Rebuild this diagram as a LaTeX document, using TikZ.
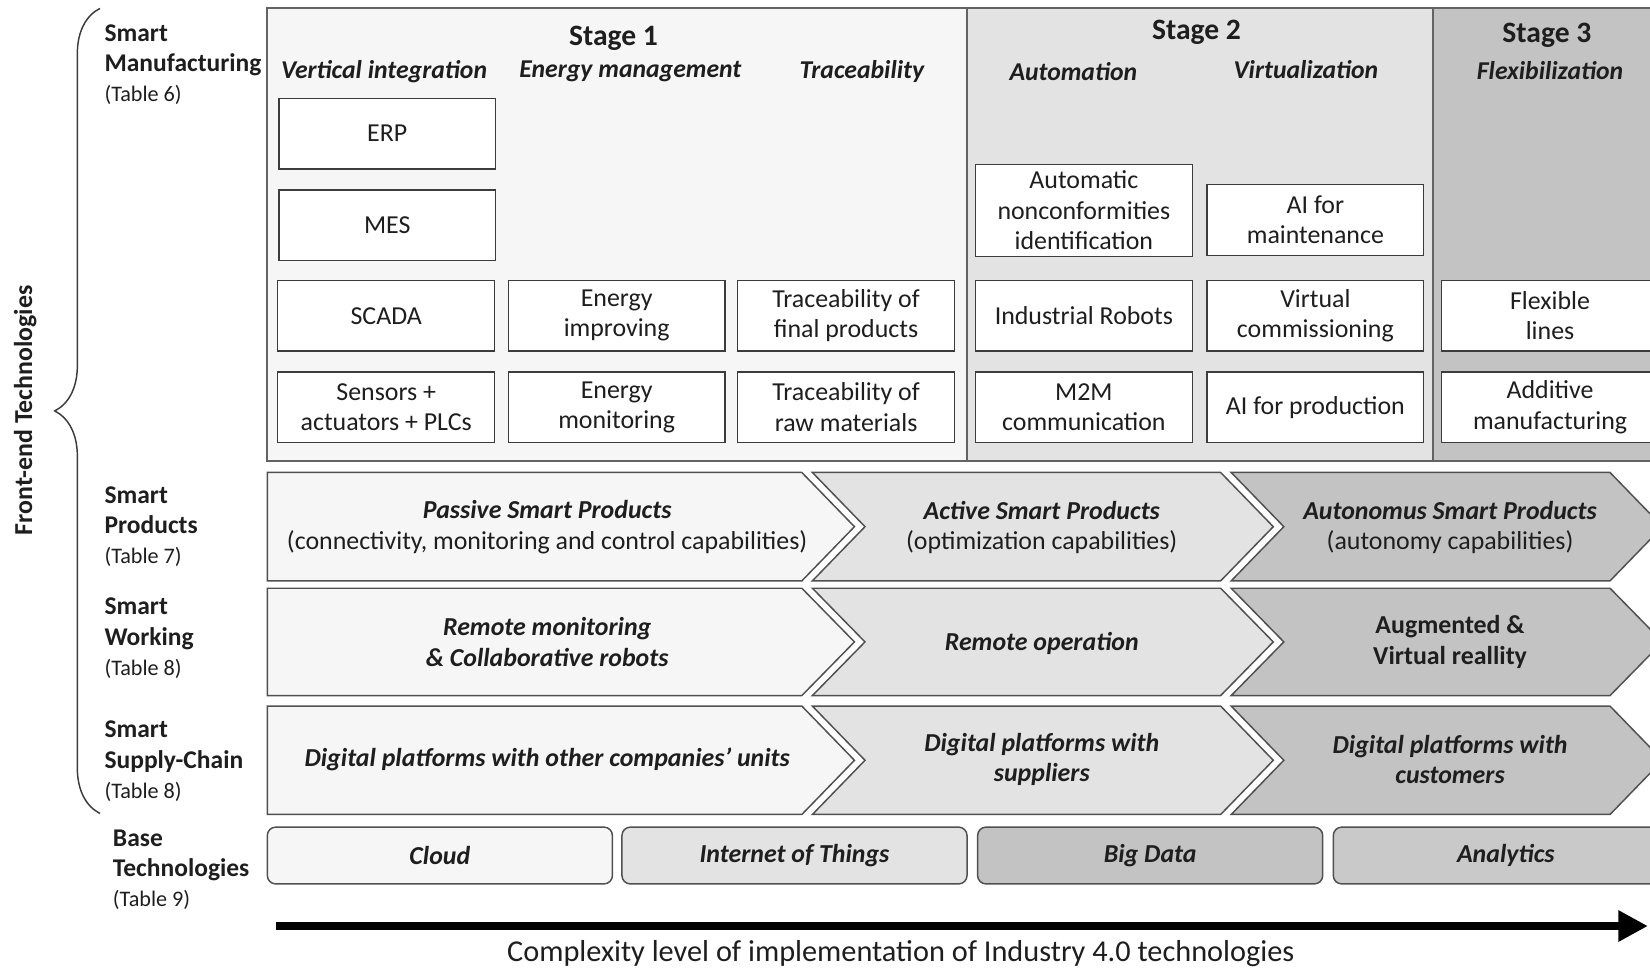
\documentclass[tikz,border=0pt]{standalone}
\usepackage{fontspec}
\setmainfont{Carlito}
\usetikzlibrary{arrows.meta,decorations.pathreplacing}
\definecolor{stageone}{HTML}{F6F6F6}
\definecolor{stagetwo}{HTML}{E3E3E3}
\definecolor{stagethree}{HTML}{C3C3C3}
\definecolor{boxline}{HTML}{3C3C3C}
\definecolor{inkcol}{HTML}{1E1E1E}
\newcommand{\tabref}[1]{{\mdseries\fontsize{12}{13}\selectfont (Table #1)}}
\tikzset{
  techbox/.style={draw=boxline, fill=white, line width=0.7pt, align=center,
    minimum width=4.12cm, minimum height=1.34cm, inner sep=1pt, text=inkcol,
    font=\fontsize{14}{16.4}\selectfont},
  panel/.style={draw=boxline!80, line width=1pt},
  chevline/.style={draw=boxline!90, line width=0.8pt},
  stagehead/.style={font=\bfseries\fontsize{16}{18}\selectfont, text=inkcol},
  subhead/.style={font=\bfseries\itshape\fontsize{13.9}{16}\selectfont, text=inkcol},
  chevtext/.style={align=center, text=inkcol, font=\bfseries\itshape\fontsize{14}{16.4}\selectfont},
  rowlabel/.style={align=left, anchor=north west, inner sep=0pt, text=inkcol,
    font=\bfseries\fontsize{13.8}{16.4}\selectfont},
  basebox/.style={draw=boxline!90, line width=0.8pt, rounded corners=0.16cm,
    minimum width=6.56cm, minimum height=1.08cm, text=inkcol,
    font=\bfseries\itshape\fontsize{14}{16}\selectfont}
}
\begin{document}
\begin{tikzpicture}[x=0.02cm,y=-0.02cm]
  \useasboundingbox (0,0) rectangle (1568,919);
  \clip (0,0) rectangle (1568,919);
  % stage panels
  \fill[stageone] (254,8) rectangle (919,438);
  \fill[stagetwo] (919,8) rectangle (1362,438);
  \fill[stagethree] (1362,8) rectangle (1590,438);
  \draw[panel] (254,8) rectangle (1590,438);
  \draw[panel] (919,8) -- (919,438);
  \draw[panel] (1362,8) -- (1362,438);
  \node[stagehead] (st1) at (583,36) {Stage 1};
  \node[stagehead] (st2) at (1137,31) {Stage 2};
  \node[stagehead] (st3) at (1470,34) {Stage 3};
  \node[subhead] (vint) at (365,68) {Vertical integration};
  \node[subhead] (enman) at (599,68) {Energy management};
  \node[subhead] (trace) at (819,68) {Traceability};
  \node[subhead] (autom) at (1020,68) {Automation};
  \node[subhead] (virt) at (1241,66) {Virtualization};
  \node[subhead] (flexz) at (1473,67) {Flexibilization};
  % technology boxes
  \foreach \name/\x/\y/\txt in
    {erp/368/127/{ERP}, mes/368/214/{MES}, scada/367/300/{SCADA},
     sensors/367/387/{Sensors +\\actuators + PLCs},
     enimp/586/300/{Energy\\improving}, enmon/586/387/{Energy\\monitoring},
     trfin/804/300/{Traceability of\\final products}, trraw/804/387/{Traceability of\\raw materials},
     robots/1030/300/{Industrial Robots}, mtom/1030/387/{M2M\\communication},
     aimaint/1250/209/{AI for\\maintenance}, vcomm/1250/300/{Virtual\\commissioning},
     aiprod/1250/387/{AI for production},
     flex/1473/300/{Flexible\\lines}, additive/1473/387/{Additive\\manufacturing}}
    \node[techbox] (\name) at (\x,\y) {\txt};
  \node[techbox, minimum height=1.74cm] (autonc) at (1030,200)
    {Automatic\\nonconformities\\identification};
  % chevron rows
  \foreach \t/\b in {449/552,559/661,671/774}{
    \pgfmathsetmacro{\m}{(\t+\b)/2}
    \filldraw[chevline, fill=stageone] (254,\t) -- (762,\t) -- (812,\m) -- (762,\b) -- (254,\b) -- cycle;
    \filldraw[chevline, fill=stagetwo] (772,\t) -- (1160,\t) -- (1210,\m) -- (1160,\b) -- (772,\b) -- (822,\m) -- cycle;
    \filldraw[chevline, fill=stagethree] (1170,\t) -- (1530,\t) -- (1580,\m) -- (1530,\b) -- (1170,\b) -- (1220,\m) -- cycle;
  }
  \node[chevtext] (prod1) at (520,501) {Passive Smart Products\\\mdseries\upshape(connectivity, monitoring and control capabilities)};
  \node[chevtext] (prod2) at (990,501) {Active Smart Products\\\mdseries\upshape(optimization capabilities)};
  \node[chevtext] (prod3) at (1378,501) {Autonomus Smart Products\\\mdseries\upshape(autonomy capabilities)};
  \node[chevtext] (work1) at (520,610) {Remote monitoring\\\& Collaborative robots};
  \node[chevtext] (work2) at (990,611) {Remote operation};
  \node[chevtext, font=\bfseries\fontsize{14}{16.4}\selectfont] (work3) at (1378,610) {Augmented \&\\Virtual reallity};
  \node[chevtext] (supp1) at (520,722) {Digital platforms with other companies’ units};
  \node[chevtext] (supp2) at (990,722) {Digital platforms with\\suppliers};
  \node[chevtext] (supp3) at (1378,722) {Digital platforms with\\customers};
  % base technologies
  \node[basebox, fill=stageone] (cloud) at (418,813) {Cloud};
  \node[basebox, fill=stagetwo] (iot) at (755,813) {Internet of Things};
  \node[basebox, fill=stagethree] (bigdata) at (1093,813) {Big Data};
  \node[basebox, fill=stagethree!90!white] (analytics) at (1431,813) {Analytics};
  % row labels
  \node[rowlabel] (lblman) at (99,23) {Smart\\Manufacturing\\\tabref{6}};
  \node[rowlabel] (lblprod) at (99,462) {Smart\\Products\\\tabref{7}};
  \node[rowlabel] (lblwork) at (99,568) {Smart\\Working\\\tabref{8}};
  \node[rowlabel] (lblsupp) at (99,685) {Smart\\Supply-Chain\\\tabref{8}};
  \node[rowlabel] (lblbase) at (107,788) {Base\\Technologies\\\tabref{9}};
  % brace
  \coordinate (bracetop) at (95,8);
  \coordinate (bracebot) at (95,773);
  \draw[boxline, line width=0.8pt, decorate, decoration={brace, amplitude=0.86cm}]
    (bracebot) -- (bracetop);
  \node[rotate=90, text=inkcol, font=\bfseries\fontsize{14}{16}\selectfont] (frontend) at (24,390) {Front-end Technologies};
  % complexity axis
  \coordinate (axstart) at (262,880);
  \coordinate (axend) at (1566,880);
  \draw[line width=4.5pt, -{Triangle[length=0.56cm, width=0.56cm]}] (axstart) -- (axend);
  \node[text=inkcol, font=\fontsize{16.4}{18}\selectfont] (axlabel) at (856,906)
    {Complexity level of implementation of Industry 4.0 technologies};
\end{tikzpicture}
\end{document}
